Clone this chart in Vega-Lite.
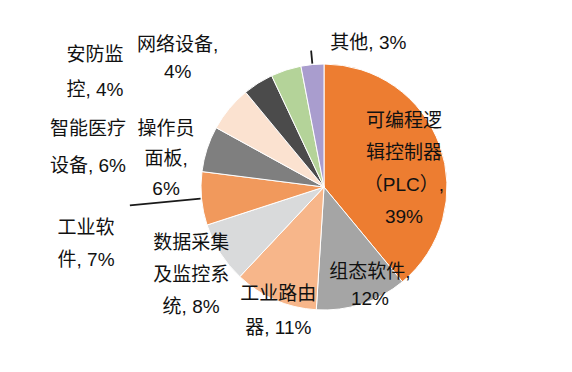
{
  "$schema": "https://vega.github.io/schema/vega-lite/v6.json",
  "width": 496,
  "height": 370,
  "autosize": {"type": "none"},
  "padding": {"left": 76, "top": 2, "right": 0, "bottom": 0},
  "background": "white",
  "config": {"view": {"stroke": null}, "text": {"font": "Liberation Sans, Noto Sans CJK SC, sans-serif"}},
  "data": {"values": [
    {"rank": 1, "name": "可编程逻辑控制器（PLC）", "value": 39, "label": "可编程逻\n辑控制器\n（PLC）,\n39%"},
    {"rank": 2, "name": "组态软件", "value": 12, "label": "组态软件,\n12%"},
    {"rank": 3, "name": "工业路由器", "value": 11, "label": "工业路由\n器, 11%"},
    {"rank": 4, "name": "数据采集及监控系统", "value": 8, "label": "数据采集\n及监控系\n统, 8%"},
    {"rank": 5, "name": "工业软件", "value": 7, "label": "工业软\n件, 7%"},
    {"rank": 6, "name": "操作员面板", "value": 6, "label": "操作员\n面板,\n6%"},
    {"rank": 7, "name": "智能医疗设备", "value": 6, "label": "智能医疗\n设备, 6%"},
    {"rank": 8, "name": "安防监控", "value": 4, "label": "安防监\n控, 4%"},
    {"rank": 9, "name": "网络设备", "value": 4, "label": "网络设备,\n4%"},
    {"rank": 10, "name": "其他", "value": 3, "label": "其他, 3%"}
  ]},
  "encoding": {
    "theta": {"field": "value", "type": "quantitative", "stack": true},
    "order": {"field": "rank", "type": "quantitative"},
    "detail": {"field": "name", "type": "nominal"}
  },
  "layer": [
    {
      "mark": {"type": "arc", "outerRadius": 123, "stroke": "white", "strokeWidth": 1},
      "encoding": {
        "color": {
          "field": "name", "type": "nominal", "legend": null,
          "scale": {
            "domain": ["可编程逻辑控制器（PLC）", "组态软件", "工业路由器", "数据采集及监控系统", "工业软件", "操作员面板", "智能医疗设备", "安防监控", "网络设备", "其他"],
            "range": ["#ED7D31", "#A5A5A5", "#F7B68A", "#D9DADB", "#F1995C", "#7F7F7F", "#FBE2D0", "#4B4B4B", "#B4D399", "#A99DCE"]
          }
        }
      }
    },
    {
      "mark": {"type": "arc", "outerRadius": 137, "innerRadius": 124, "padAngle": 3, "fillOpacity": 0, "stroke": "#1a1a1a", "strokeWidth": 1.8},
      "encoding": {"strokeOpacity": {"condition": {"test": "datum.rank === 10", "value": 1}, "value": 0}}
    },
    {
      "mark": {"type": "arc", "outerRadius": 195, "innerRadius": 124, "padAngle": 3, "fillOpacity": 0, "stroke": "#1a1a1a", "strokeWidth": 1.8},
      "encoding": {"strokeOpacity": {"condition": {"test": "datum.rank === 5", "value": 1}, "value": 0}}
    },
    {
      "mark": {"type": "text", "radius": 85, "dx": 0, "dy": -37, "fontSize": 19, "lineHeight": 32, "lineBreak": "\n", "align": "center", "baseline": "middle", "fill": "#111111"},
      "encoding": {"text": {"condition": {"test": "datum.rank === 1", "field": "label", "type": "nominal"}, "value": ""}}
    },
    {
      "mark": {"type": "text", "radius": 100, "dx": 15, "dy": -10, "fontSize": 19, "lineHeight": 27, "lineBreak": "\n", "align": "center", "baseline": "middle", "fill": "#111111"},
      "encoding": {"text": {"condition": {"test": "datum.rank === 2", "field": "label", "type": "nominal"}, "value": ""}}
    },
    {
      "mark": {"type": "text", "radius": 130, "dx": 6, "dy": -12, "fontSize": 19, "lineHeight": 34, "lineBreak": "\n", "align": "center", "baseline": "middle", "fill": "#111111"},
      "encoding": {"text": {"condition": {"test": "datum.rank === 3", "field": "label", "type": "nominal"}, "value": ""}}
    },
    {
      "mark": {"type": "text", "radius": 155, "dx": -2, "dy": -27, "fontSize": 19, "lineHeight": 32, "lineBreak": "\n", "align": "center", "baseline": "middle", "fill": "#111111"},
      "encoding": {"text": {"condition": {"test": "datum.rank === 4", "field": "label", "type": "nominal"}, "value": ""}}
    },
    {
      "mark": {"type": "text", "radius": 237, "dx": -2, "dy": 19, "fontSize": 19, "lineHeight": 32, "lineBreak": "\n", "align": "center", "baseline": "middle", "fill": "#111111"},
      "encoding": {"text": {"condition": {"test": "datum.rank === 5", "field": "label", "type": "nominal"}, "value": ""}}
    },
    {
      "mark": {"type": "text", "radius": 165, "dx": -1, "dy": -7, "fontSize": 19, "lineHeight": 30, "lineBreak": "\n", "align": "center", "baseline": "middle", "fill": "#111111"},
      "encoding": {"text": {"condition": {"test": "datum.rank === 6", "field": "label", "type": "nominal"}, "value": ""}}
    },
    {
      "mark": {"type": "text", "radius": 170, "dx": -105, "dy": 50, "fontSize": 19, "lineHeight": 37, "lineBreak": "\n", "align": "center", "baseline": "middle", "fill": "#111111"},
      "encoding": {"text": {"condition": {"test": "datum.rank === 7", "field": "label", "type": "nominal"}, "value": ""}}
    },
    {
      "mark": {"type": "text", "radius": 140, "dx": -154, "dy": -14, "fontSize": 19, "lineHeight": 35, "lineBreak": "\n", "align": "center", "baseline": "middle", "fill": "#111111"},
      "encoding": {"text": {"condition": {"test": "datum.rank === 8", "field": "label", "type": "nominal"}, "value": ""}}
    },
    {
      "mark": {"type": "text", "radius": 140, "dx": -103, "dy": -9, "fontSize": 19, "lineHeight": 27, "lineBreak": "\n", "align": "center", "baseline": "middle", "fill": "#111111"},
      "encoding": {"text": {"condition": {"test": "datum.rank === 9", "field": "label", "type": "nominal"}, "value": ""}}
    },
    {
      "mark": {"type": "text", "radius": 145, "dx": 20, "dy": 0, "fontSize": 19, "lineHeight": 27, "lineBreak": "\n", "align": "left", "baseline": "middle", "fill": "#111111"},
      "encoding": {"text": {"condition": {"test": "datum.rank === 10", "field": "label", "type": "nominal"}, "value": ""}}
    }
  ]
}
